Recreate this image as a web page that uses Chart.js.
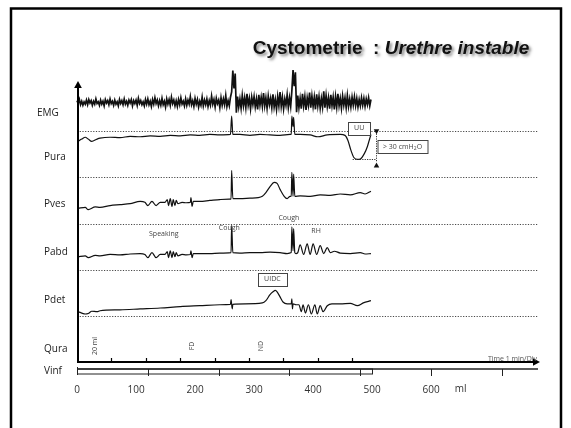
<!DOCTYPE html>
<html>
<head>
<meta charset="utf-8">
<title>Cystometrie</title>
<script src="https://cdn.jsdelivr.net/npm/chart.js@4.4.1/dist/chart.umd.min.js"></script>
<style>
    html, body { margin: 0; padding: 0; background: #fff; }
    #wrap { width: 571px; height: 428px; }
</style>
</head>
<body>
<div id="wrap"><canvas id="cystoChart" width="571" height="428"></canvas></div>
<script>
// Cystometry sheet (unstable urethra)
// x = infused volume in ml, every trace sits on its own stacked y axis

const channels = ['EMG', 'Pura', 'Pves', 'Pabd', 'Pdet', 'Qura'];
const volumeTicks = [0, 100, 200, 300, 400, 500, 600];
const minuteTicks = [1, 2, 3, 4, 5, 6, 7, 8];
const vinfTicks = [120, 240, 360, 480, 600, 720];
const infusedVolume = 500;

// EMG, one sample every 2 ml
const emgStep = 2;
const emg = [
    3, -2, 5, -4, 2, -5, 1, -3, 4, -4,
    5, -1, 3, -5, 2, -3, 6, -2, 1, -5,
    4, -3, 2, -6, 5, -1, 3, -4, 6, -2,
    2, -5, 4, -3, 1, -6, 5, -2, 3, -4,
    6, -3, 2, -5, 4, -1, 5, -6, 3, -2,
    4, -5, 7, -2, 3, -4, 1, -6, 5, -3,
    6, -4, 2, -7, 5, -3, 8, -2, 4, -6,
    3, -5, 7, -4, 2, -8, 6, -3, 5, -5,
    9, -2, 4, -6, 3, -7, 5, -4, 8, -3,
    2, -6, 6, -5, 4, -3, 10, -4, 3, -7,
    7, -3, 5, -8, 2, -5, 9, -6, 4, -4,
    6, -7, 3, -5, 11, -3, 5, -8, 7, -2,
    4, -9, 8, -5, 6, -4, 12, -7, 3, -6,
    9, 18, 55, 24, 50, -18, 10, -8, 6, -10,
    12, -6, 8, -9, 15, -5, 7, -11, 9, -4,
    10, -8, 6, -12, 13, -5, 9, -7, 16, -6,
    8, -10, 11, -4, 7, -9, 14, -8, 5, -12,
    10, -6, 18, -7, 9, -11, 6, -5, 13, -9,
    8, -7, 20, 56, 28, 52, -17, 12, -9, 7,
    -11, 15, -6, 10, -13, 8, -5, 17, -9, 11,
    -7, 9, -12, 14, -6, 10, -10, 7, -8, 19,
    -9, 12, -7, 8, -11, 13, -6, 9, -12, 10,
    -8, 15, -6, 7, -10, 11, -5, 8, -9, 12,
    -7, 6, -8, 9, -5, 10, -6, 7, -8, 5,
    -6, 8, -5, 7, -7, 6, -4, 8, -6, 5
];

// [ml, cmH2O]
const pura = [
    [2, 78], [8, 83], [14, 87], [19, 83], [25, 78], [34, 83], [39, 85], [56, 87],
    [73, 86], [90, 89], [107, 88], [124, 90], [141, 89], [158, 91], [175, 90],
    [192, 92], [208, 91], [225, 93], [242, 92], [260, 93], [262, 133], [264, 93],
    [276, 93], [293, 91], [310, 93], [327, 92], [344, 91], [361, 93], [363, 93],
    [364, 133], [366, 110], [367, 130], [369, 93], [378, 93], [395, 92], [408, 88],
    [424, 92], [446, 93], [454, 91], [459, 80], [464, 59], [469, 43], [475, 39],
    [480, 40], [487, 52], [492, 67], [495, 80], [498, 93]
];

const pves = [
    [2, 33], [14, 35], [19, 30], [31, 36], [39, 35], [56, 39], [73, 41], [90, 43],
    [107, 48], [115, 46], [120, 39], [127, 48], [134, 39], [141, 46], [149, 46],
    [153, 52], [155, 39], [158, 54], [161, 37], [163, 52], [166, 39], [168, 50],
    [171, 43], [178, 46], [185, 45], [192, 46], [193, 56], [195, 37], [197, 48],
    [208, 48], [225, 50], [242, 52], [258, 53], [261, 53], [262, 115], [264, 54],
    [276, 54], [293, 55], [307, 56], [314, 59], [320, 67], [327, 80], [334, 89],
    [339, 87], [344, 74], [351, 59], [356, 54], [361, 59], [363, 59], [364, 111],
    [366, 59], [367, 107], [369, 59], [378, 60], [395, 59], [412, 62], [429, 61],
    [446, 64], [463, 62], [480, 67], [488, 64], [498, 70]
];

const pabd = [
    [2, 28], [14, 30], [19, 26], [31, 31], [39, 30], [56, 33], [73, 32], [90, 34],
    [107, 35], [115, 33], [120, 26], [127, 37], [134, 26], [141, 33], [149, 33],
    [153, 39], [155, 26], [158, 41], [161, 26], [163, 39], [166, 28], [168, 37],
    [171, 30], [178, 33], [185, 32], [192, 33], [193, 41], [195, 26], [197, 35],
    [208, 35], [225, 35], [242, 36], [261, 37], [262, 96], [264, 37], [276, 36],
    [293, 37], [310, 37], [327, 38], [344, 37], [356, 35], [363, 37], [364, 93],
    [366, 41], [367, 89], [369, 37], [371, 35], [374, 37], [378, 54], [384, 33],
    [390, 56], [395, 33], [400, 56], [406, 33], [412, 52], [418, 35], [424, 48],
    [429, 37], [436, 40], [446, 36], [463, 35], [480, 37], [488, 34], [498, 35]
];

const pdet = [
    [2, 9], [8, 6], [14, 4], [19, 5], [25, 10], [34, 9], [39, 11], [73, 13],
    [107, 15], [141, 17], [175, 20], [208, 22], [242, 24], [260, 25], [261, 35],
    [263, 15], [264, 25], [285, 26], [314, 28], [320, 33], [327, 46], [332, 52],
    [336, 55], [339, 52], [344, 41], [349, 30], [356, 26], [363, 26], [364, 37],
    [365, 15], [366, 26], [371, 24], [376, 24], [380, 9], [383, 24], [387, 6],
    [392, 24], [397, 4], [403, 24], [407, 4], [412, 22], [417, 9], [424, 22],
    [432, 26], [446, 26], [463, 27], [475, 22], [485, 28], [498, 33]
];

// events written on the flow track
const qEvents = ['20 ml', 'FD', 'ND'];
const qEventVolumes = [30, 195, 312];

const toPoints = pairs => pairs.map(p => ({ x: p[0], y: p[1] }));

function trace(label, data, axis, width, smooth) {
    return {
        label: label,
        data: data,
        yAxisID: axis,
        borderColor: '#111',
        borderWidth: width || 1.2,
        pointRadius: 0,
        cubicInterpolationMode: smooth ? 'monotone' : 'default',
        tension: 0,
        clip: false
    };
}

function band(weight, min, max) {
    return {
        type: 'linear', position: 'right', stack: 'tracks', stackWeight: weight,
        min: min, max: max, display: false
    };
}

// text positions: axis values on the channel where the note sits
const notes = [
    { text: 'Speaking', axis: 'yPabd', x: 147, y: 78 },
    { text: 'Cough', axis: 'yPabd', x: 258, y: 91 },
    { text: 'Cough', axis: 'yPabd', x: 359, y: 111 },
    { text: 'RH', axis: 'yPabd', x: 405, y: 83 }
];
const tags = [
    { text: 'UU', axis: 'yPura', x: 478, y: 106 },
    { text: 'UIDC', axis: 'yPdet', x: 331, y: 79 }
];

function arrowHead(ctx, x, y, dir, size) {
    ctx.beginPath();
    if (dir === 'up') {
        ctx.moveTo(x, y); ctx.lineTo(x - size * 0.55, y + size); ctx.lineTo(x + size * 0.55, y + size);
    } else if (dir === 'down') {
        ctx.moveTo(x, y); ctx.lineTo(x - size * 0.55, y - size); ctx.lineTo(x + size * 0.55, y - size);
    } else {
        ctx.moveTo(x, y); ctx.lineTo(x - size, y - size * 0.55); ctx.lineTo(x - size, y + size * 0.55);
    }
    ctx.closePath();
    ctx.fill();
}

const sheetDecor = {
    id: 'sheetDecor',
    beforeDatasetsDraw(chart) {
        const { ctx, chartArea: ca, scales } = chart;
        ctx.save();
        ctx.setLineDash([1.2, 1.5]);
        ctx.strokeStyle = '#333';
        ctx.lineWidth = 0.9;
        ['yPura', 'yPves', 'yPabd', 'yPdet', 'yQura'].forEach(id => {
            const y = Math.round(scales[id].top) + 0.5;
            ctx.beginPath();
            ctx.moveTo(ca.left, y);
            ctx.lineTo(ca.right, y);
            ctx.stroke();
        });
        ctx.restore();
    },
    afterDraw(chart) {
        const { ctx, chartArea: ca, scales } = chart;
        const x = scales.x;
        const xt = scales.xTime;
        ctx.save();

        // slide frame
        ctx.strokeStyle = '#000';
        ctx.lineWidth = 2.5;
        ctx.beginPath();
        ctx.moveTo(11, 430);
        ctx.lineTo(11, 8.5);
        ctx.lineTo(561, 8.5);
        ctx.lineTo(561, 430);
        ctx.stroke();

        // title with shadow
        ctx.save();
        ctx.shadowColor = 'rgba(0,0,0,0.5)';
        ctx.shadowBlur = 3;
        ctx.shadowOffsetX = 2;
        ctx.shadowOffsetY = 2;
        ctx.fillStyle = '#111';
        ctx.textBaseline = 'alphabetic';
        ctx.textAlign = 'left';
        const t1 = 'Cystometrie  : ';
        const t2 = 'Urethre instable';
        const fBold = 'bold 19px "Liberation Sans", Arial, sans-serif';
        const fItal = 'italic bold 19px "Liberation Sans", Arial, sans-serif';
        ctx.font = fBold;
        const w1 = ctx.measureText(t1).width;
        ctx.font = fItal;
        const w2 = ctx.measureText(t2).width;
        const tx = 391 - (w1 + w2) / 2;
        ctx.font = fBold;
        ctx.fillText(t1, tx, 54);
        ctx.font = fItal;
        ctx.fillText(t2, tx + w1, 54);
        ctx.restore();

        // vertical axis with arrow
        ctx.fillStyle = '#000';
        ctx.strokeStyle = '#000';
        ctx.lineWidth = 2;
        ctx.beginPath();
        ctx.moveTo(ca.left + 1, ca.bottom);
        ctx.lineTo(ca.left + 1, 88);
        ctx.stroke();
        arrowHead(ctx, ca.left + 1, 81, 'up', 7);

        // flow/time axis with arrow and minute ticks
        ctx.beginPath();
        ctx.moveTo(ca.left, ca.bottom);
        ctx.lineTo(ca.right - 5, ca.bottom);
        ctx.stroke();
        arrowHead(ctx, ca.right + 2, ca.bottom, 'right', 7);
        ctx.lineWidth = 1.2;
        minuteTicks.forEach(m => {
            const px = Math.round(xt.getPixelForValue(m)) + 0.5;
            ctx.beginPath();
            ctx.moveTo(px, ca.bottom);
            ctx.lineTo(px, ca.bottom - 4);
            ctx.stroke();
        });
        ctx.fillStyle = '#555';
        ctx.font = '7px "Open Sans", sans-serif';
        ctx.textAlign = 'right';
        ctx.textBaseline = 'alphabetic';
        ctx.fillText('Time 1 min/Div', ca.right - 1, ca.bottom - 1.5);

        // infused volume bar
        const vy = ca.bottom + 7;
        ctx.strokeStyle = '#222';
        ctx.lineWidth = 1.6;
        ctx.beginPath();
        ctx.moveTo(ca.left, vy);
        ctx.lineTo(ca.right, vy);
        ctx.stroke();
        ctx.lineWidth = 1;
        const vx0 = Math.round(x.getPixelForValue(0)) + 0.5;
        const vx1 = Math.round(x.getPixelForValue(infusedVolume)) + 0.5;
        ctx.strokeRect(vx0, vy, vx1 - vx0, 5);
        vinfTicks.forEach(v => {
            const px = Math.round(x.getPixelForValue(v)) + 0.5;
            ctx.beginPath();
            ctx.moveTo(px, vy);
            ctx.lineTo(px, vy + 7);
            ctx.stroke();
        });
        ctx.beginPath();
        ctx.moveTo(vx0, vy - 2);
        ctx.lineTo(vx0, vy + 6);
        ctx.stroke();

        // unit next to the volume labels
        ctx.fillStyle = '#333';
        ctx.font = '10px "Open Sans", sans-serif';
        ctx.textAlign = 'center';
        ctx.textBaseline = 'middle';
        ctx.fillText('ml', x.getPixelForValue(650), ca.bottom + 27);

        // channel names
        const labelFrac = { EMG: 0.74, Pura: 0.565, Pves: 0.59, Pabd: 0.63, Pdet: 0.67, Qura: 0.72 };
        ctx.fillStyle = '#222';
        ctx.font = '10px "Open Sans", sans-serif';
        ctx.textAlign = 'left';
        channels.forEach(name => {
            const sc = scales['y' + name];
            const y = sc.top + (sc.bottom - sc.top) * labelFrac[name];
            ctx.fillText(name, name === 'EMG' ? 37 : 44, y);
        });
        ctx.fillText('Vinf', 44, ca.bottom + 9);

        // events on the flow track, written upwards
        ctx.fillStyle = '#444';
        ctx.font = '7px "Open Sans", sans-serif';
        ctx.textAlign = 'center';
        qEvents.forEach((txt, i) => {
            ctx.save();
            ctx.translate(x.getPixelForValue(qEventVolumes[i]), ca.bottom - 16);
            ctx.rotate(-Math.PI / 2);
            ctx.fillText(txt, 0, 0);
            ctx.restore();
        });

        // free notes
        notes.forEach(n => {
            ctx.fillText(n.text, x.getPixelForValue(n.x), scales[n.axis].getPixelForValue(n.y));
        });

        // boxed tags
        ctx.strokeStyle = '#444';
        ctx.lineWidth = 1;
        tags.forEach(t => {
            const cx = x.getPixelForValue(t.x);
            const cy = scales[t.axis].getPixelForValue(t.y);
            const w = ctx.measureText(t.text).width + 12;
            ctx.fillStyle = '#fff';
            ctx.fillRect(cx - w / 2, cy - 6.5, w, 13);
            ctx.strokeRect(Math.round(cx - w / 2) + 0.5, Math.round(cy - 6.5) + 0.5, Math.round(w), 13);
            ctx.fillStyle = '#444';
            ctx.fillText(t.text, cx, cy);
        });

        // urethral pressure drop measure
        const yp = scales.yPura;
        const mx = Math.round(x.getPixelForValue(507)) + 0.5;
        const trough = Math.min(...pura.map(p => p[1]));
        const yTop = yp.getPixelForValue(100);
        const yLow = yp.getPixelForValue(trough);
        ctx.strokeStyle = '#333';
        ctx.setLineDash([1.2, 1.2]);
        ctx.beginPath();
        ctx.moveTo(mx, yTop);
        ctx.lineTo(mx, yLow + 3);
        ctx.moveTo(x.getPixelForValue(467), Math.round(yLow) + 0.5);
        ctx.lineTo(mx, Math.round(yLow) + 0.5);
        ctx.stroke();
        ctx.setLineDash([]);
        ctx.fillStyle = '#111';
        arrowHead(ctx, mx, yTop + 3, 'down', 5);
        arrowHead(ctx, mx, yLow + 3, 'up', 5);

        const bx = mx + 1.5;
        const by = Math.round(yp.getPixelForValue(80)) + 0.5;
        ctx.strokeStyle = '#444';
        ctx.strokeRect(bx, by, 50, 13);
        ctx.fillStyle = '#444';
        ctx.textAlign = 'left';
        ctx.font = '7px "Open Sans", sans-serif';
        const s1 = '> 30 cmH';
        const w = ctx.measureText(s1).width;
        ctx.fillText(s1, bx + 5, by + 6.5);
        ctx.font = '5px "Open Sans", sans-serif';
        ctx.fillText('2', bx + 5 + w, by + 8.5);
        ctx.font = '7px "Open Sans", sans-serif';
        ctx.fillText('O', bx + 5 + w + 3, by + 6.5);

        ctx.restore();
    }
};

new Chart(document.getElementById('cystoChart'), {
    type: 'line',
    data: {
        datasets: [
            trace('EMG', emg.map((v, i) => ({ x: i * emgStep, y: v })), 'yEMG', 1.7, false),
            trace('Pura', toPoints(pura), 'yPura', 1.2, true),
            trace('Pves', toPoints(pves), 'yPves', 1.2, true),
            trace('Pabd', toPoints(pabd), 'yPabd', 1.2, true),
            trace('Pdet', toPoints(pdet), 'yPdet', 1.2, true)
        ]
    },
    options: {
        responsive: false,
        animation: false,
        layout: { padding: { left: 77, right: 33, top: 62, bottom: 18 } },
        plugins: {
            legend: { display: false },
            tooltip: { enabled: false }
        },
        scales: {
            x: {
                type: 'linear',
                min: 0,
                max: 781,
                grid: { display: false },
                border: { display: false },
                afterBuildTicks: axis => {
                    axis.ticks = volumeTicks.map(v => ({ value: v }));
                },
                ticks: {
                    padding: 14,
                    color: '#333',
                    maxRotation: 0,
                    font: { family: 'Open Sans', size: 10 }
                }
            },
            xTime: { type: 'linear', position: 'bottom', min: 0, max: 13.4, display: false },
            yEMG: band(1.5, -50, 70),
            yPura: band(1, 0, 100),
            yPves: band(1, 0, 100),
            yPabd: band(1, 0, 100),
            yPdet: band(1, 0, 100),
            yQura: band(1, 0, 100)
        }
    },
    plugins: [sheetDecor]
});
</script>
</body>
</html>
